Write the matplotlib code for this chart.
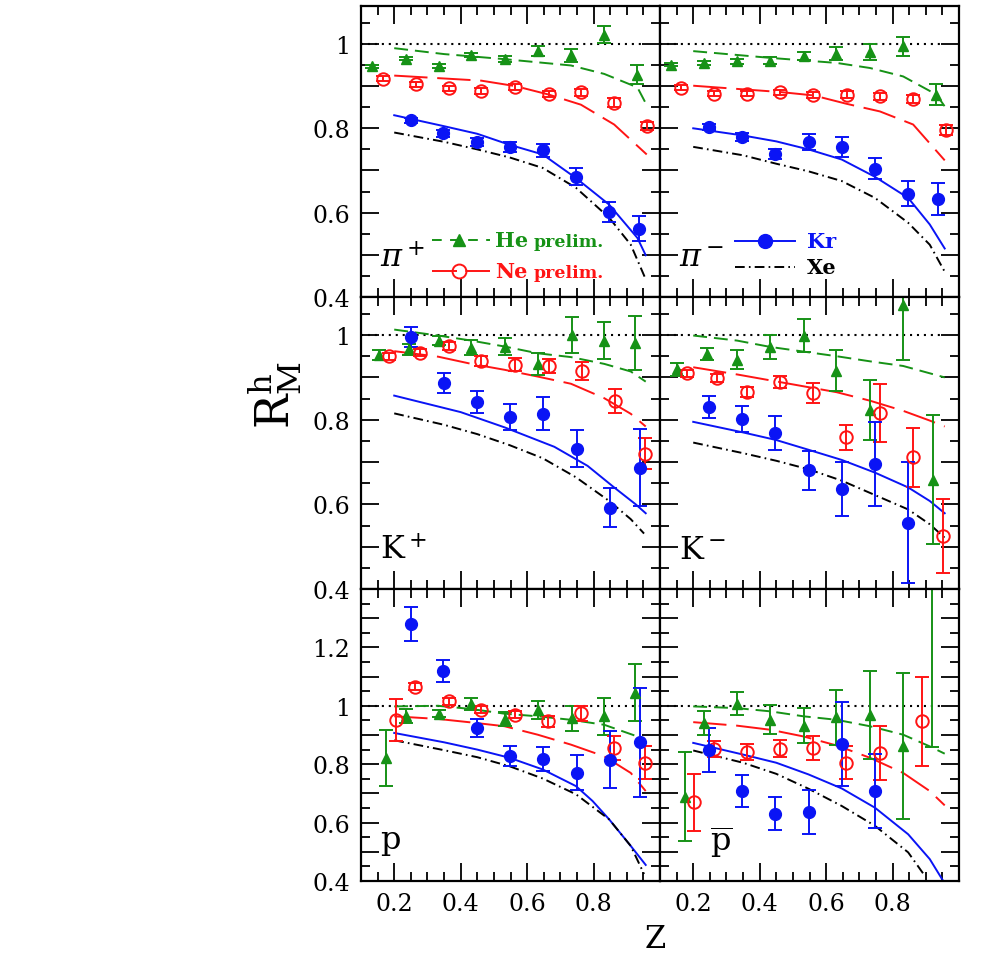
import numpy as np
import matplotlib
matplotlib.use("Agg")
import matplotlib.pyplot as plt
from matplotlib.ticker import MultipleLocator, FuncFormatter

plt.rcParams['font.family'] = ['DejaVu Serif']
plt.rcParams['mathtext.fontset'] = 'dejavuserif'
plt.rcParams['lines.scale_dashes'] = False

GREEN = '#169216'
RED = '#ff1414'
BLUE = '#0a14f5'
BLACK = 'black'

# ---------------- data points (z, R, err) ----------------
# pi+
pip_he_x = [0.134, 0.234, 0.334, 0.432, 0.534, 0.632, 0.732, 0.832, 0.932]
pip_he_y = [0.947, 0.965, 0.947, 0.973, 0.964, 0.984, 0.973, 1.022, 0.927]
pip_he_e = [0.003, 0.004, 0.005, 0.005, 0.007, 0.012, 0.015, 0.020, 0.022]
pip_ne_x = [0.165, 0.265, 0.365, 0.462, 0.565, 0.665, 0.762, 0.862, 0.962]
pip_ne_y = [0.918, 0.904, 0.895, 0.889, 0.898, 0.882, 0.885, 0.861, 0.805]
pip_ne_e = [0.006, 0.006, 0.006, 0.007, 0.007, 0.007, 0.009, 0.010, 0.010]
pip_kr_x = [0.25, 0.347, 0.45, 0.547, 0.647, 0.747, 0.847, 0.937]
pip_kr_y = [0.819, 0.788, 0.767, 0.756, 0.748, 0.685, 0.602, 0.562]
pip_kr_e = [0.006, 0.008, 0.010, 0.012, 0.015, 0.020, 0.024, 0.029]

# pi-
pim_he_x = [0.134, 0.232, 0.332, 0.432, 0.532, 0.63, 0.732, 0.832, 0.932]
pim_he_y = [0.951, 0.955, 0.959, 0.960, 0.972, 0.977, 0.981, 0.994, 0.880]
pim_he_e = [0.004, 0.005, 0.006, 0.008, 0.010, 0.015, 0.018, 0.022, 0.025]
pim_ne_x = [0.164, 0.262, 0.362, 0.46, 0.562, 0.662, 0.762, 0.862, 0.962]
pim_ne_y = [0.896, 0.882, 0.882, 0.885, 0.878, 0.880, 0.876, 0.870, 0.795]
pim_ne_e = [0.006, 0.006, 0.006, 0.007, 0.007, 0.008, 0.008, 0.009, 0.012]
pim_kr_x = [0.247, 0.347, 0.447, 0.547, 0.647, 0.747, 0.847, 0.937]
pim_kr_y = [0.803, 0.779, 0.740, 0.768, 0.755, 0.704, 0.645, 0.633]
pim_kr_e = [0.008, 0.010, 0.012, 0.019, 0.024, 0.025, 0.029, 0.038]

# K+
kp_he_x = [0.154, 0.244, 0.334, 0.432, 0.534, 0.632, 0.734, 0.832, 0.924]
kp_he_y = [0.953, 0.966, 0.987, 0.970, 0.973, 0.932, 1.000, 0.987, 0.982]
kp_he_e = [0.012, 0.012, 0.010, 0.018, 0.021, 0.026, 0.043, 0.043, 0.064]
kp_ne_x = [0.184, 0.277, 0.365, 0.462, 0.565, 0.665, 0.765, 0.865, 0.955]
kp_ne_y = [0.950, 0.958, 0.974, 0.938, 0.930, 0.927, 0.916, 0.845, 0.720]
kp_ne_e = [0.008, 0.008, 0.010, 0.012, 0.016, 0.016, 0.021, 0.028, 0.036]
kp_kr_x = [0.25, 0.35, 0.45, 0.547, 0.649, 0.749, 0.849, 0.939]
kp_kr_y = [0.995, 0.887, 0.843, 0.807, 0.814, 0.732, 0.592, 0.687]
kp_kr_e = [0.024, 0.024, 0.026, 0.031, 0.039, 0.044, 0.046, 0.090]

# K-
km_he_x = [0.152, 0.24, 0.332, 0.43, 0.532, 0.63, 0.732, 0.83, 0.922]
km_he_y = [0.919, 0.956, 0.942, 0.972, 0.998, 0.916, 0.823, 1.070, 0.658]
km_he_e = [0.015, 0.014, 0.022, 0.029, 0.039, 0.049, 0.070, 0.129, 0.152]
km_ne_x = [0.182, 0.272, 0.362, 0.462, 0.562, 0.66, 0.762, 0.862, 0.952]
km_ne_y = [0.910, 0.899, 0.865, 0.890, 0.863, 0.758, 0.816, 0.711, 0.525]
km_ne_e = [0.008, 0.010, 0.012, 0.014, 0.023, 0.030, 0.069, 0.069, 0.087]
km_kr_x = [0.247, 0.347, 0.447, 0.547, 0.647, 0.747, 0.847]
km_kr_y = [0.829, 0.802, 0.769, 0.681, 0.636, 0.695, 0.557]
km_kr_e = [0.026, 0.031, 0.040, 0.046, 0.063, 0.099, 0.142]

# p
p_he_x = [0.174, 0.234, 0.334, 0.432, 0.534, 0.632, 0.734, 0.832, 0.924]
p_he_y = [0.822, 0.966, 0.973, 1.007, 0.955, 0.986, 0.958, 0.964, 1.045]
p_he_e = [0.095, 0.024, 0.012, 0.020, 0.024, 0.031, 0.043, 0.064, 0.098]
p_ne_x = [0.204, 0.264, 0.365, 0.46, 0.565, 0.662, 0.762, 0.862, 0.955]
p_ne_y = [0.952, 1.066, 1.015, 0.986, 0.969, 0.947, 0.975, 0.856, 0.805]
p_ne_e = [0.071, 0.012, 0.012, 0.012, 0.012, 0.018, 0.026, 0.042, 0.057]
p_kr_x = [0.25, 0.347, 0.45, 0.547, 0.649, 0.749, 0.849, 0.939]
p_kr_y = [1.280, 1.120, 0.924, 0.827, 0.818, 0.770, 0.816, 0.875]
p_kr_e = [0.057, 0.037, 0.031, 0.034, 0.042, 0.060, 0.098, 0.187]

# pbar
pb_he_x = [0.174, 0.232, 0.332, 0.432, 0.532, 0.63, 0.732, 0.832, 0.92]
pb_he_y = [0.689, 0.941, 1.007, 0.952, 0.932, 0.961, 0.969, 0.864, 1.450]
pb_he_e = [0.152, 0.040, 0.040, 0.050, 0.060, 0.094, 0.150, 0.250, 0.590]
pb_ne_x = [0.202, 0.262, 0.362, 0.46, 0.562, 0.66, 0.762, 0.89]
pb_ne_y = [0.670, 0.852, 0.842, 0.853, 0.855, 0.805, 0.839, 0.947]
pb_ne_e = [0.098, 0.027, 0.027, 0.030, 0.040, 0.056, 0.093, 0.153]
pb_kr_x = [0.247, 0.347, 0.447, 0.547, 0.647, 0.747]
pb_kr_y = [0.848, 0.708, 0.631, 0.637, 0.870, 0.708]
pb_kr_e = [0.075, 0.056, 0.058, 0.075, 0.144, 0.126]

# ---------------- model curves ----------------
pip_he_cx = [0.2, 0.35, 0.532, 0.732, 0.832, 0.932, 0.96]
pip_he_cy = [0.990, 0.976, 0.964, 0.949, 0.929, 0.897, 0.855]
pip_ne_cx = [0.2, 0.462, 0.565, 0.665, 0.762, 0.862, 0.96]
pip_ne_cy = [0.925, 0.913, 0.900, 0.880, 0.856, 0.809, 0.738]
pip_kr_cx = [0.2, 0.35, 0.45, 0.547, 0.647, 0.747, 0.847, 0.932, 0.957]
pip_kr_cy = [0.831, 0.805, 0.787, 0.761, 0.738, 0.682, 0.619, 0.540, 0.499]
pip_xe_cx = [0.2, 0.35, 0.45, 0.547, 0.647, 0.747, 0.847, 0.912, 0.957]
pip_xe_cy = [0.790, 0.768, 0.750, 0.731, 0.706, 0.659, 0.588, 0.524, 0.442]

pim_he_cx = [0.2, 0.432, 0.532, 0.632, 0.732, 0.832, 0.932, 0.957]
pim_he_cy = [0.983, 0.967, 0.961, 0.955, 0.943, 0.923, 0.880, 0.852]
pim_ne_cx = [0.2, 0.462, 0.562, 0.662, 0.762, 0.862, 0.957]
pim_ne_cy = [0.901, 0.886, 0.878, 0.858, 0.840, 0.809, 0.724]
pim_kr_cx = [0.2, 0.35, 0.45, 0.547, 0.647, 0.747, 0.847, 0.912, 0.957]
pim_kr_cy = [0.800, 0.783, 0.769, 0.750, 0.726, 0.685, 0.635, 0.572, 0.515]
pim_xe_cx = [0.2, 0.35, 0.45, 0.547, 0.647, 0.747, 0.847, 0.912, 0.957]
pim_xe_cy = [0.756, 0.736, 0.716, 0.698, 0.675, 0.635, 0.576, 0.524, 0.460]

kp_he_cx = [0.2, 0.332, 0.432, 0.532, 0.632, 0.732, 0.832, 0.912, 0.957]
kp_he_cy = [1.013, 0.999, 0.987, 0.973, 0.957, 0.948, 0.932, 0.914, 0.890]
kp_ne_cx = [0.2, 0.332, 0.432, 0.532, 0.632, 0.732, 0.832, 0.912, 0.957]
kp_ne_cy = [0.962, 0.949, 0.932, 0.918, 0.902, 0.885, 0.851, 0.814, 0.784]
kp_kr_cx = [0.2, 0.4, 0.532, 0.682, 0.782, 0.862, 0.927, 0.957]
kp_kr_cy = [0.857, 0.818, 0.782, 0.736, 0.691, 0.640, 0.600, 0.579]
kp_xe_cx = [0.2, 0.35, 0.45, 0.547, 0.647, 0.747, 0.847, 0.912, 0.952]
kp_xe_cy = [0.815, 0.788, 0.766, 0.740, 0.709, 0.664, 0.608, 0.565, 0.531]

km_he_cx = [0.2, 0.332, 0.432, 0.532, 0.632, 0.732, 0.832, 0.957]
km_he_cy = [0.999, 0.987, 0.972, 0.961, 0.950, 0.938, 0.927, 0.900]
km_ne_cx = [0.2, 0.332, 0.432, 0.532, 0.632, 0.732, 0.832, 0.912, 0.957]
km_ne_cy = [0.924, 0.907, 0.893, 0.879, 0.865, 0.845, 0.821, 0.798, 0.784]
km_kr_cx = [0.2, 0.35, 0.45, 0.547, 0.647, 0.747, 0.847, 0.912, 0.957]
km_kr_cy = [0.795, 0.770, 0.752, 0.729, 0.705, 0.675, 0.640, 0.608, 0.579]
km_xe_cx = [0.2, 0.35, 0.45, 0.547, 0.647, 0.747, 0.847, 0.912, 0.957]
km_xe_cy = [0.746, 0.721, 0.703, 0.683, 0.656, 0.622, 0.588, 0.553, 0.521]

p_he_cx = [0.2, 0.332, 0.432, 0.532, 0.632, 0.732, 0.832, 0.932]
p_he_cy = [0.998, 1.000, 0.989, 0.973, 0.964, 0.952, 0.935, 0.895]
p_ne_cx = [0.2, 0.332, 0.432, 0.532, 0.632, 0.732, 0.832, 0.912, 0.957]
p_ne_cy = [0.964, 0.955, 0.943, 0.930, 0.901, 0.867, 0.827, 0.770, 0.708]
p_kr_cx = [0.2, 0.35, 0.45, 0.547, 0.647, 0.747, 0.797, 0.847, 0.912, 0.957]
p_kr_cy = [0.907, 0.875, 0.850, 0.822, 0.782, 0.725, 0.674, 0.611, 0.520, 0.455]
p_xe_cx = [0.2, 0.35, 0.45, 0.547, 0.647, 0.747, 0.847, 0.912, 0.952]
p_xe_cy = [0.882, 0.848, 0.824, 0.793, 0.751, 0.697, 0.611, 0.520, 0.424]

pb_he_cx = [0.2, 0.332, 0.432, 0.532, 0.632, 0.732, 0.832, 0.912, 0.957]
pb_he_cy = [0.998, 0.992, 0.981, 0.964, 0.952, 0.930, 0.901, 0.861, 0.836]
pb_ne_cx = [0.2, 0.332, 0.432, 0.532, 0.632, 0.732, 0.832, 0.912, 0.957]
pb_ne_cy = [0.944, 0.932, 0.918, 0.895, 0.864, 0.822, 0.770, 0.708, 0.659]
pb_kr_cx = [0.2, 0.35, 0.45, 0.547, 0.647, 0.747, 0.847, 0.912, 0.952]
pb_kr_cy = [0.873, 0.833, 0.805, 0.765, 0.717, 0.651, 0.560, 0.475, 0.401]
pb_xe_cx = [0.2, 0.35, 0.45, 0.547, 0.647, 0.747, 0.847, 0.897]
pb_xe_cy = [0.847, 0.805, 0.767, 0.716, 0.657, 0.589, 0.498, 0.418]

panel_labels = [r'$\pi^+$', r'$\pi^-$', r'$\mathrm{K}^+$', r'$\mathrm{K}^-$',
                r'$\mathrm{p}$', r'$\overline{\mathrm{p}}$']

panels = [
    (pip_he_x, pip_he_y, pip_he_e, pip_ne_x, pip_ne_y, pip_ne_e, pip_kr_x, pip_kr_y, pip_kr_e,
     pip_he_cx, pip_he_cy, pip_ne_cx, pip_ne_cy, pip_kr_cx, pip_kr_cy, pip_xe_cx, pip_xe_cy),
    (pim_he_x, pim_he_y, pim_he_e, pim_ne_x, pim_ne_y, pim_ne_e, pim_kr_x, pim_kr_y, pim_kr_e,
     pim_he_cx, pim_he_cy, pim_ne_cx, pim_ne_cy, pim_kr_cx, pim_kr_cy, pim_xe_cx, pim_xe_cy),
    (kp_he_x, kp_he_y, kp_he_e, kp_ne_x, kp_ne_y, kp_ne_e, kp_kr_x, kp_kr_y, kp_kr_e,
     kp_he_cx, kp_he_cy, kp_ne_cx, kp_ne_cy, kp_kr_cx, kp_kr_cy, kp_xe_cx, kp_xe_cy),
    (km_he_x, km_he_y, km_he_e, km_ne_x, km_ne_y, km_ne_e, km_kr_x, km_kr_y, km_kr_e,
     km_he_cx, km_he_cy, km_ne_cx, km_ne_cy, km_kr_cx, km_kr_cy, km_xe_cx, km_xe_cy),
    (p_he_x, p_he_y, p_he_e, p_ne_x, p_ne_y, p_ne_e, p_kr_x, p_kr_y, p_kr_e,
     p_he_cx, p_he_cy, p_ne_cx, p_ne_cy, p_kr_cx, p_kr_cy, p_xe_cx, p_xe_cy),
    (pb_he_x, pb_he_y, pb_he_e, pb_ne_x, pb_ne_y, pb_ne_e, pb_kr_x, pb_kr_y, pb_kr_e,
     pb_he_cx, pb_he_cy, pb_ne_cx, pb_ne_cy, pb_kr_cx, pb_kr_cy, pb_xe_cx, pb_xe_cy),
]

HE_DASH = (0, (10, 5))
NE_DASH = (0, (24, 7))
XE_DASH = (0, (7, 3, 1.2, 3))
LW = 1.4

fig = plt.figure(figsize=(9.81, 9.54), dpi=100)
W, H = 981.0, 954.0
col_x = [361, 660]
row_top = [7, 298, 590]
row_bot = [298, 590, 882]
col_w = 299


def ytick_fmt(v, pos):
    if abs(v / 0.2 - round(v / 0.2)) < 1e-6 and v < 1.21:
        return '%g' % round(v, 2)
    return ''


def xtick_fmt(v, pos):
    if v < 0.95 and v > 0.15:
        return '%g' % round(v, 2)
    return ''


for i, d in enumerate(panels):
    r, c = divmod(i, 2)
    ax = fig.add_axes([col_x[c] / W, 1 - row_bot[r] / H, col_w / W,
                       (row_bot[r] - row_top[r]) / H])
    (hx, hy, he, nx, ny, ne, kx, ky, ke,
     hcx, hcy, ncx, ncy, kcx, kcy, xcx, xcy) = d

    ax.plot([0.1, 0.955], [1, 1], color=BLACK, ls=(0, (1.5, 3.5)), lw=1.5)
    ax.plot(hcx, hcy, color=GREEN, ls=HE_DASH, lw=LW)
    ax.plot(ncx, ncy, color=RED, ls=NE_DASH, lw=LW)
    ax.plot(kcx, kcy, color=BLUE, ls='-', lw=LW)
    ax.plot(xcx, xcy, color=BLACK, ls=XE_DASH, lw=LW)

    ax.errorbar(hx, hy, yerr=he, fmt='^', color=GREEN, ms=7, capsize=5,
                elinewidth=1.4, capthick=1.4)
    ax.errorbar(nx, ny, yerr=ne, fmt='o', color=RED, mfc='none', mec=RED,
                mew=1.4, ms=9, capsize=5, elinewidth=1.4, capthick=1.4)
    ax.errorbar(kx, ky, yerr=ke, fmt='o', color=BLUE, ms=8.5, capsize=5,
                elinewidth=1.4, capthick=1.4)

    ax.set_xlim(0.1, 1.0)
    ax.set_ylim(0.4, 1.4 if r == 2 else 1.09)
    ax.xaxis.set_major_locator(MultipleLocator(0.2))
    ax.xaxis.set_minor_locator(MultipleLocator(0.05))
    ax.yaxis.set_major_locator(MultipleLocator(0.1))
    ax.yaxis.set_minor_locator(MultipleLocator(0.05))
    ax.tick_params(which='both', direction='in', top=True, right=True,
                   width=1.3, labelsize=17, pad=8)
    ax.tick_params(which='major', length=13)
    ax.tick_params(which='minor', length=6.5)
    for s in ax.spines.values():
        s.set_linewidth(1.6)

    if c == 0:
        ax.yaxis.set_major_formatter(FuncFormatter(ytick_fmt))
    else:
        ax.set_yticklabels([])
    if r == 2:
        ax.xaxis.set_major_formatter(FuncFormatter(xtick_fmt))
    else:
        ax.set_xticklabels([])

    lx = 0.167 if i == 5 else 0.065
    ax.text(lx, 0.135, panel_labels[i], transform=ax.transAxes,
            fontsize=23, ha='left', va='center')

    if i == 0:
        ax.plot([0.237, 0.431], [0.196, 0.196], transform=ax.transAxes,
                color=GREEN, ls=(0, (7, 6)), lw=LW)
        ax.plot([0.328], [0.196], '^', transform=ax.transAxes, color=GREEN, ms=8)
        ax.text(0.448, 0.196, 'He', transform=ax.transAxes, color=GREEN,
                fontsize=15, fontweight='bold', va='center')
        ax.text(0.578, 0.192, 'prelim.', transform=ax.transAxes, color=GREEN,
                fontsize=12.5, fontweight='bold', va='center')
        ax.plot([0.237, 0.431], [0.089, 0.089], transform=ax.transAxes,
                color=RED, ls=(0, (18, 6)), lw=LW)
        ax.plot([0.328], [0.089], 'o', transform=ax.transAxes, color=RED,
                mfc='none', mew=1.4, ms=10)
        ax.text(0.448, 0.089, 'Ne', transform=ax.transAxes, color=RED,
                fontsize=15, fontweight='bold', va='center')
        ax.text(0.578, 0.085, 'prelim.', transform=ax.transAxes, color=RED,
                fontsize=12.5, fontweight='bold', va='center')
    if i == 1:
        ax.plot([0.251, 0.452], [0.192, 0.192], transform=ax.transAxes,
                color=BLUE, ls='-', lw=LW)
        ax.plot([0.351], [0.192], 'o', transform=ax.transAxes, color=BLUE, ms=10)
        ax.text(0.49, 0.192, 'Kr', transform=ax.transAxes, color=BLUE,
                fontsize=15, fontweight='bold', va='center')
        ax.plot([0.251, 0.452], [0.103, 0.103], transform=ax.transAxes,
                color=BLACK, ls=XE_DASH, lw=LW)
        ax.text(0.49, 0.103, 'Xe', transform=ax.transAxes, color=BLACK,
                fontsize=15, fontweight='bold', va='center')

fig.text(275 / W, 1 - 395 / H, r'$\mathrm{R^h_M}$', rotation=90,
         fontsize=33, ha='center', va='center')
fig.text(655 / W, 1 - 940 / H, 'Z', fontsize=22, ha='center', va='center')

fig.savefig('out.png', dpi=100)
